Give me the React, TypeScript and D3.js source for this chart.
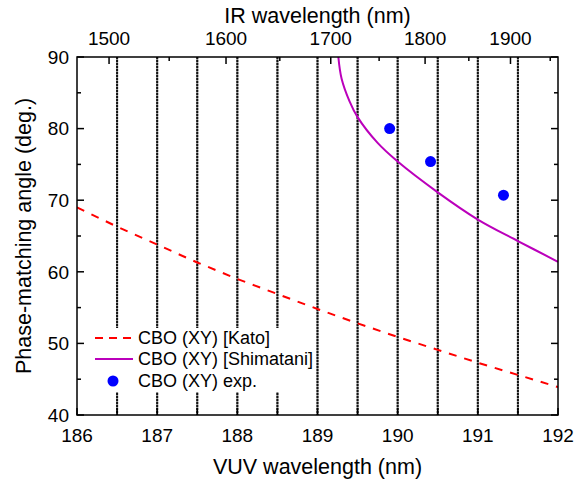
import React from 'react'
import * as d3 from 'd3'

// VUV wavelength (nm) vs phase-matching angle (deg.)
const vuvTicks = [186, 187, 188, 189, 190, 191, 192]
const vuvMinor = [186.5, 187.5, 188.5, 189.5, 190.5, 191.5]
const gridX = [186.5, 187, 187.5, 188, 188.5, 189, 189.5, 190, 190.5, 191, 191.5]
const angleTicks = [40, 50, 60, 70, 80, 90]
const angleMinor = [45, 55, 65, 75, 85]
const irTicks = [1500, 1600, 1700, 1800, 1900]
const irMinor = [1550, 1650, 1750, 1850, 1950]
const pumpNm = 212.85

const katoX = [186, 186.5, 187, 187.5, 188, 188.5, 189, 189.5, 190, 190.5, 191, 191.5, 192]
const katoY = [69.0, 66.3, 63.8, 61.3, 59.0, 56.9, 54.8, 52.8, 50.9, 49.1, 47.3, 45.6, 43.9]

const shimX = [189.26, 189.3, 189.4, 189.5, 189.75, 190, 190.5, 191, 191.5, 192]
const shimY = [90.0, 87.0, 83.8, 81.6, 78.0, 75.4, 71.1, 67.3, 64.3, 61.4]

const expX = [189.9, 190.41, 191.32]
const expY = [80.0, 75.4, 70.7]

const W = 574
const H = 479
const margin = {top: 57, right: 16, bottom: 64, left: 77}
const font = "'Liberation Sans', Arial, sans-serif"

export default function App() {
  const x = d3.scaleLinear().domain([186, 192]).range([margin.left, W - margin.right])
  const y = d3.scaleLinear().domain([40, 90]).range([H - margin.bottom, margin.top])
  const irToVuv = (ir: number) => 1 / (1 / ir + 1 / pumpNm)

  const x0 = margin.left, x1 = W - margin.right
  const y0 = H - margin.bottom, y1 = margin.top

  const line = d3.line<[number, number]>()
    .x(d => x(d[0]))
    .y(d => y(d[1]))
  const curve = d3.line<[number, number]>()
    .x(d => x(d[0]))
    .y(d => y(d[1]))
    .curve(d3.curveCatmullRom.alpha(0.5))

  const kato = katoX.map((v, i) => [v, katoY[i]] as [number, number])
  const shim = shimX.map((v, i) => [v, shimY[i]] as [number, number])

  return (
    <svg width={W} height={H} style={{position: 'absolute', left: 0, top: 0, display: 'block'}}
      fontFamily={font}>
      <rect width={W} height={H} fill="#fff" />
      <defs>
        <clipPath id="plot">
          <rect x={x0} y={y1} width={x1 - x0} height={y0 - y1} />
        </clipPath>
      </defs>

      {/* dotted verticals */}
      {gridX.map(v => (
        <g key={v}>
          <line x1={x(v)} x2={x(v)} y1={y1} y2={y0} stroke="#888" strokeWidth={2} />
          <line x1={x(v)} x2={x(v)} y1={y1} y2={y0} stroke="#111" strokeWidth={2} strokeDasharray="2 1" />
        </g>
      ))}

      <g clipPath="url(#plot)">
        <path d={line(kato) ?? ''} fill="none" stroke="#ff0000" strokeWidth={2} strokeDasharray="8 8" />
        <path d={curve(shim) ?? ''} fill="none" stroke="#bb00bb" strokeWidth={2} />
      </g>
      {expX.map((v, i) => (
        <circle key={v} cx={x(v)} cy={y(expY[i])} r={5.5} fill="#0000ff" />
      ))}

      {/* legend */}
      <rect x={88} y={328} width={226} height={64} fill="#fff" />
      <line x1={95} x2={133} y1={338} y2={338} stroke="#ff0000" strokeWidth={2} strokeDasharray="8 6" />
      <text x={138} y={338} dy="0.36em" fontSize={18}>CBO (XY) [Kato]</text>
      <line x1={95} x2={133} y1={359} y2={359} stroke="#bb00bb" strokeWidth={2} />
      <text x={138} y={359} dy="0.36em" fontSize={18}>CBO (XY) [Shimatani]</text>
      <circle cx={113} cy={381} r={5.5} fill="#0000ff" />
      <text x={138} y={381} dy="0.36em" fontSize={18}>CBO (XY) exp.</text>

      {/* frame */}
      <rect x={x0} y={y1} width={x1 - x0} height={y0 - y1} fill="none" stroke="#000" strokeWidth={1.5} />

      {/* bottom axis */}
      {[...vuvTicks, ...vuvMinor].map(v => (
        <line key={'b' + v} x1={x(v)} x2={x(v)} y1={y0} y2={y0 - 7} stroke="#000" strokeWidth={1.5} />
      ))}
      {vuvTicks.map(v => (
        <text key={'bl' + v} x={x(v)} y={y0 + 20} dy="0.36em" textAnchor="middle" fontSize={19}>{v}</text>
      ))}
      <text x={(x0 + x1) / 2} y={466} dy="0.36em" textAnchor="middle" fontSize={21.5}>VUV wavelength (nm)</text>

      {/* top axis */}
      {irTicks.map(v => (
        <line key={'t' + v} x1={x(irToVuv(v))} x2={x(irToVuv(v))} y1={y1} y2={y1 + 7} stroke="#000" strokeWidth={1.5} />
      ))}
      {irMinor.map(v => (
        <line key={'tm' + v} x1={x(irToVuv(v))} x2={x(irToVuv(v))} y1={y1} y2={y1 + 4} stroke="#000" strokeWidth={1.5} />
      ))}
      {irTicks.map(v => (
        <text key={'tl' + v} x={x(irToVuv(v))} y={38} dy="0.36em" textAnchor="middle" fontSize={19}>{v}</text>
      ))}
      <text x={(x0 + x1) / 2} y={15} dy="0.36em" textAnchor="middle" fontSize={21.5}>IR wavelength (nm)</text>

      {/* left / right axes */}
      {angleTicks.map(v => (
        <g key={'l' + v}>
          <line x1={x0} x2={x0 + 7} y1={y(v)} y2={y(v)} stroke="#000" strokeWidth={1.5} />
          <line x1={x1} x2={x1 - 7} y1={y(v)} y2={y(v)} stroke="#000" strokeWidth={1.5} />
          <text x={x0 - 8} y={y(v)} dy="0.36em" textAnchor="end" fontSize={19}>{v}</text>
        </g>
      ))}
      {angleMinor.map(v => (
        <g key={'lm' + v}>
          <line x1={x0} x2={x0 + 4} y1={y(v)} y2={y(v)} stroke="#000" strokeWidth={1.5} />
          <line x1={x1} x2={x1 - 4} y1={y(v)} y2={y(v)} stroke="#000" strokeWidth={1.5} />
        </g>
      ))}
      <text transform={`translate(23,${(y0 + y1) / 2}) rotate(-90)`} dy="0.36em" textAnchor="middle" fontSize={21.5}>
        Phase-matching angle (deg.)
      </text>
    </svg>
  )
}
